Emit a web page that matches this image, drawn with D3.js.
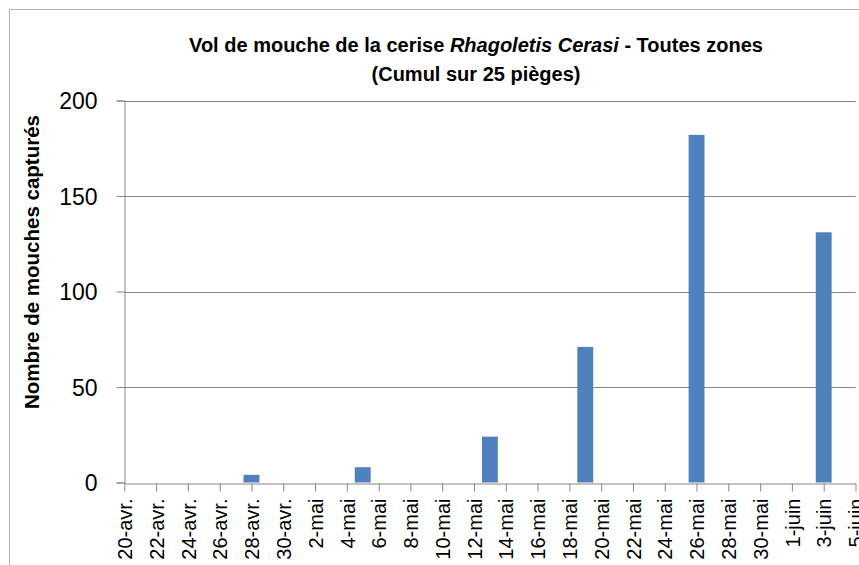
<!DOCTYPE html>
<html>
<head>
<meta charset="utf-8">
<script src="https://cdn.jsdelivr.net/npm/d3@7"></script>
<style>
  body { margin: 0; background: #fff; }
  svg { display: block; }
</style>
</head>
<body>
<div id="chart"></div>
<script>
// Vol de mouche de la cerise - cumul sur 25 pieges

const width = 859;
const height = 565;

// data
const dates = ["2013-04-28", "2013-05-05", "2013-05-13", "2013-05-19", "2013-05-26", "2013-06-03"];
const values = [4, 8, 24, 71, 182, 131];

const yTicks = [0, 50, 100, 150, 200];
const tickDates = ["2013-04-20", "2013-04-22", "2013-04-24", "2013-04-26", "2013-04-28", "2013-04-30",
  "2013-05-02", "2013-05-04", "2013-05-06", "2013-05-08", "2013-05-10", "2013-05-12", "2013-05-14",
  "2013-05-16", "2013-05-18", "2013-05-20", "2013-05-22", "2013-05-24", "2013-05-26", "2013-05-28",
  "2013-05-30", "2013-06-01", "2013-06-03", "2013-06-05"];
const tickLabels = ["20-avr.", "22-avr.", "24-avr.", "26-avr.", "28-avr.", "30-avr.",
  "2-mai", "4-mai", "6-mai", "8-mai", "10-mai", "12-mai", "14-mai",
  "16-mai", "18-mai", "20-mai", "22-mai", "24-mai", "26-mai", "28-mai",
  "30-mai", "1-juin", "3-juin", "5-juin"];

const parse = d3.utcParse("%Y-%m-%d");

const plotLeft = 124.3, plotRight = 855.5, plotTop = 100.5, plotBottom = 482.5;

const x = d3.scaleUtc()
    .domain([parse("2013-04-20"), parse("2013-06-05")])
    .range([plotLeft, plotRight]);

const y = d3.scaleLinear()
    .domain([0, 200])
    .range([plotBottom, plotTop]);

const dayW = x(parse("2013-04-21")) - x(parse("2013-04-20"));
const barW = dayW * 1.0;

const svg = d3.select("#chart")
    .append("svg")
    .attr("width", width)
    .attr("height", height);

// chart frame (cut off at right and bottom)
svg.append("path")
    .attr("d", "M9.5," + height + "V9.5H" + width)
    .attr("fill", "none")
    .attr("stroke", "#b3b3b3")
    .attr("stroke-width", 1);

// gridlines
svg.append("g")
    .selectAll("line")
    .data(yTicks.slice(1))
    .join("line")
    .attr("x1", plotLeft)
    .attr("x2", plotRight)
    .attr("y1", d => Math.round(y(d)) + 0.5)
    .attr("y2", d => Math.round(y(d)) + 0.5)
    .attr("stroke", "#868686");

// y axis
const yAxis = svg.append("g")
    .attr("transform", "translate(" + (Math.round(plotLeft) + 0.5) + ",0)")
    .call(d3.axisLeft(y).tickValues(yTicks).tickSize(8).tickPadding(19));
yAxis.select(".domain").attr("stroke", "#868686");
yAxis.selectAll(".tick line").attr("stroke", "#868686");
yAxis.selectAll(".tick text")
    .attr("font-family", "'Liberation Sans', Arial, sans-serif")
    .attr("font-size", "23px")
    .attr("fill", "#000")
    .attr("dy", "0.36em");

// bars
svg.append("g")
    .selectAll("rect")
    .data(dates.map((d, i) => ({date: parse(d), value: values[i]})))
    .join("rect")
    .attr("x", d => x(d.date) - barW / 2)
    .attr("width", barW)
    .attr("y", d => y(d.value))
    .attr("height", d => y(0) - y(d.value))
    .attr("fill", "#4f81bd");

// x axis
const xAxis = svg.append("g")
    .attr("transform", "translate(0," + (Math.round(plotBottom) + 0.5) + ")")
    .call(d3.axisBottom(x)
        .tickValues(tickDates.map(parse))
        .tickFormat((d, i) => tickLabels[i])
        .tickSizeInner(8)
        .tickSizeOuter(0));
xAxis.select(".domain").attr("stroke", "#868686");
xAxis.selectAll(".tick line").attr("stroke", "#868686");
xAxis.selectAll(".tick text")
    .attr("font-family", "'Liberation Sans', Arial, sans-serif")
    .attr("font-size", "20px")
    .attr("fill", "#000")
    .attr("text-anchor", "end")
    .attr("transform", "rotate(-90)")
    .attr("x", -15)
    .attr("y", 0)
    .attr("dy", "0.36em");

// y title
svg.append("text")
    .attr("transform", "translate(39,262) rotate(-90)")
    .attr("text-anchor", "middle")
    .attr("font-family", "'Liberation Sans', Arial, sans-serif")
    .attr("font-weight", "bold")
    .attr("font-size", "20.5px")
    .text("Nombre de mouches capturés");

// title
const title = svg.append("text")
    .attr("x", 476)
    .attr("y", 52)
    .attr("text-anchor", "middle")
    .attr("font-family", "'Liberation Sans', Arial, sans-serif")
    .attr("font-weight", "bold")
    .attr("font-size", "20px");
title.append("tspan").text("Vol de mouche de la cerise ");
title.append("tspan").attr("font-style", "italic").text("Rhagoletis Cerasi");
title.append("tspan").text(" - Toutes zones");

svg.append("text")
    .attr("x", 476)
    .attr("y", 81)
    .attr("text-anchor", "middle")
    .attr("font-family", "'Liberation Sans', Arial, sans-serif")
    .attr("font-weight", "bold")
    .attr("font-size", "20px")
    .text("(Cumul sur 25 pièges)");
</script>
</body>
</html>
